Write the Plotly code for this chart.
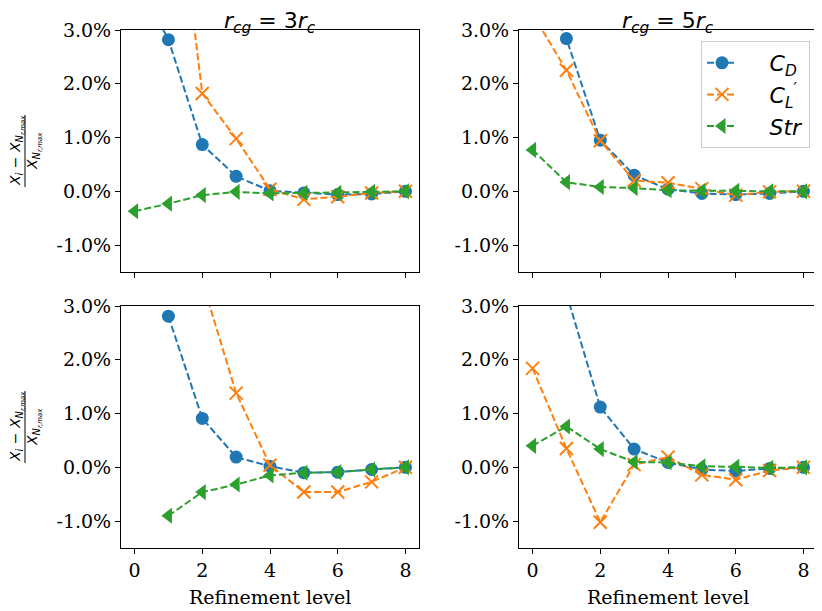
import plotly.graph_objects as go

# ---------------- data ----------------
levels = [0, 1, 2, 3, 4, 5, 6, 7, 8]

# top-left  (r_cg = 3 r_c), first row
cd_tl = [4.0, 2.82, 0.87, 0.28, 0.01, -0.03, -0.06, -0.05, 0.0]
cl_tl = [None, 7.0, 1.82, 0.98, 0.04, -0.15, -0.10, -0.03, 0.0]
st_tl = [-0.37, -0.23, -0.07, -0.01, -0.04, -0.03, -0.03, -0.01, 0.0]

# top-right (r_cg = 5 r_c), first row
cd_tr = [4.1, 2.84, 0.95, 0.30, 0.04, -0.04, -0.06, -0.04, 0.0]
cl_tr = [3.3, 2.25, 0.94, 0.20, 0.16, 0.05, -0.07, -0.01, 0.0]
st_tr = [0.77, 0.17, 0.08, 0.06, 0.02, 0.01, 0.01, 0.0, 0.0]

# bottom-left (r_cg = 3 r_c), second row
cd_bl = [None, 2.81, 0.91, 0.19, 0.02, -0.10, -0.09, -0.04, 0.0]
cl_bl = [None, None, 3.46, 1.38, 0.04, -0.46, -0.46, -0.27, 0.0]
st_bl = [None, -0.90, -0.46, -0.32, -0.15, -0.10, -0.09, -0.04, 0.0]

# bottom-right (r_cg = 5 r_c), second row
cd_br = [None, 3.23, 1.12, 0.34, 0.09, -0.04, -0.07, -0.02, 0.0]
cl_br = [1.84, 0.35, -1.02, 0.05, 0.19, -0.14, -0.23, -0.06, 0.0]
st_br = [0.40, 0.76, 0.34, 0.10, 0.09, 0.02, 0.01, -0.01, 0.0]

xticks = [0, 2, 4, 6, 8]
yticks = [-1, 0, 1, 2, 3]
ytick_labels = ["-1.0%", "0.0%", "1.0%", "2.0%", "3.0%"]
titles = ["<i>r</i><sub><i>cg</i></sub> = 3<i>r</i><sub><i>c</i></sub>",
          "<i>r</i><sub><i>cg</i></sub> = 5<i>r</i><sub><i>c</i></sub>"]
names = ["<i>C</i><sub><i>D</i></sub>", "<i>C</i><sub><i>L</i></sub><sup>′</sup>", "<i>Str</i>"]
xlabel = "Refinement level"

# ---------------- styling ----------------
# The page body adds an 8px margin, so the figure is drawn 8px smaller and
# all positions (measured on the 822x611 screenshot) are shifted by -8px.
OFF = 8
W, H = 822 - OFF, 611 - OFF
colors = ["#1f77b4", "#ff7f0e", "#2ca02c"]
symbols = ["circle", "x-thin", "triangle-left"]
msizes = [13, 13, 14]
dash = "7px,3px"
serif = "DejaVu Serif"
sans = "DejaVu Sans"


def px(v):
    return (v - OFF) / W


def py(v):
    return 1 - (v - OFF) / H


xdom = {"L": [px(121), px(419)], "R": [px(519), px(817)]}
ydom = {"T": [py(272), py(30)], "B": [py(548), py(306)]}

panels = [
    ("L", "T", (cd_tl, cl_tl, st_tl)),
    ("R", "T", (cd_tr, cl_tr, st_tr)),
    ("L", "B", (cd_bl, cl_bl, st_bl)),
    ("R", "B", (cd_br, cl_br, st_br)),
]

fig = go.Figure()
layout = {}
for i, (col, row, series) in enumerate(panels):
    n = i + 1
    xa = "x" if n == 1 else f"x{n}"
    ya = "y" if n == 1 else f"y{n}"
    for k, ser in enumerate(series):
        line = dict(color=colors[k], width=2, dash=dash)
        if symbols[k] == "x-thin":
            marker = dict(symbol="x-thin", size=msizes[k], line=dict(color=colors[k], width=2), color=colors[k])
        else:
            marker = dict(symbol=symbols[k], size=msizes[k], color=colors[k], line=dict(width=0))
        fig.add_trace(go.Scatter(
            x=levels, y=ser, mode="lines+markers", name="\u2003\u2005" + names[k],
            line=line, marker=marker, xaxis=xa, yaxis=ya,
            showlegend=(n == 2), cliponaxis=True,
        ))
    axis_common = dict(showline=True, mirror=True, linecolor="black", linewidth=1,
                       ticks="outside", ticklen=5, tickwidth=1, tickcolor="black",
                       showgrid=False, zeroline=False, automargin=False,
                       tickfont=dict(family=serif, size=19, color="black"))
    xkey = "xaxis" if n == 1 else f"xaxis{n}"
    ykey = "yaxis" if n == 1 else f"yaxis{n}"
    xa_d = dict(axis_common, domain=xdom[col], range=[-0.4, 8.4], tickvals=xticks,
                anchor=ya, showticklabels=(row == "B"))
    ya_d = dict(axis_common, domain=ydom[row], range=[-1.5, 3.0], tickvals=yticks,
                ticktext=ytick_labels, anchor=xa)
    layout[xkey] = xa_d
    layout[ykey] = ya_d

annotations = []
shapes = []
# column titles and x labels
for t, col in zip(titles, ["L", "R"]):
    cx = (xdom[col][0] + xdom[col][1]) / 2
    annotations.append(dict(text=t, x=cx, y=py(6), xref="paper", yref="paper",
                            xanchor="center", yanchor="top", showarrow=False,
                            font=dict(family=sans, size=22, color="black")))
    annotations.append(dict(text=xlabel, x=cx, y=py(597), xref="paper", yref="paper",
                            xanchor="center", yanchor="middle", showarrow=False,
                            font=dict(family=serif, size=19, color="black")))
# y labels (fraction), one per row
num = "<i>X</i><sub><i>i</i></sub> − <i>X</i><sub><i>N</i><sub><i>r,max</i></sub></sub>"
den = "<i>X</i><sub><i>N</i><sub><i>r,max</i></sub></sub>"
for row in ["T", "B"]:
    cy = (ydom[row][0] + ydom[row][1]) / 2
    annotations.append(dict(text=num, x=px(17), y=cy, xref="paper", yref="paper",
                            xanchor="center", yanchor="middle", showarrow=False, textangle=-90,
                            font=dict(family=sans, size=14, color="black")))
    annotations.append(dict(text=den, x=px(34), y=cy, xref="paper", yref="paper",
                            xanchor="center", yanchor="middle", showarrow=False, textangle=-90,
                            font=dict(family=sans, size=14, color="black")))
    shapes.append(dict(type="line", xref="paper", yref="paper",
                       x0=px(25), x1=px(25), y0=cy - 36 / H, y1=cy + 36 / H,
                       line=dict(color="black", width=1)))

fig.update_layout(
    width=W, height=H,
    margin=dict(l=0, r=0, t=0, b=0, autoexpand=False),
    paper_bgcolor="white", plot_bgcolor="white",
    annotations=annotations, shapes=shapes,
    legend=dict(x=px(701), y=py(41), xanchor="left", yanchor="top",
                bgcolor="rgba(255,255,255,0.8)", bordercolor="#cccccc", borderwidth=1,
                font=dict(family=sans, size=22, color="black"), tracegroupgap=0),
    **layout,
)

fig.write_html("out.html")
